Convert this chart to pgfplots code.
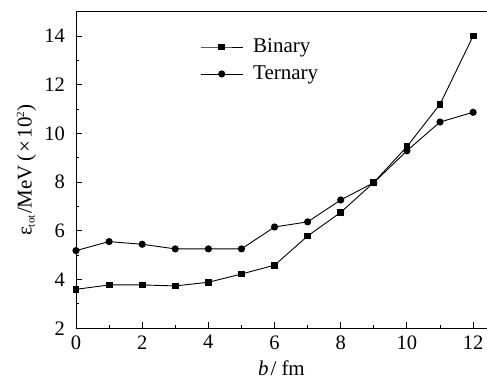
\documentclass[border=0pt]{standalone}
\usepackage{fontspec}
\setmainfont{Liberation Serif}
\usepackage{pgfplots}
\pgfplotsset{compat=1.18}
\usetikzlibrary{calc}
\begin{document}
\fontsize{21}{24}\selectfont
\begin{tikzpicture}
\begin{axis}[
  name=ax,
  scale only axis,
  width=411pt, height=316.6pt,
  xmin=0, xmax=12.42, ymin=2, ymax=15,
  axis x line=box, axis y line=left,
  axis line style={line width=0.9pt, -},
  xtick={0,2,...,12}, ytick={2,4,...,14},
  minor xtick={1,3,...,11}, minor ytick={3,5,...,13},
  xtick pos=bottom, ytick pos=left,
  tick align=inside,
  major tick length=6pt, minor tick length=3pt,
  tick style={line width=0.9pt, black},
  /pgf/number format/assume math mode=true,
  tick label style={font=\fontsize{20.5}{23}\selectfont},
  yticklabel style={xshift=-4pt},
  label style={font=\fontsize{21}{24}\selectfont},
  xlabel={\textit{b}\kern2pt/\kern5pt fm},
  ylabel={ε\textsubscript{\fontsize{11}{11}\selectfont tot}\kern1pt/MeV\kern3pt(\kern2pt×\kern3pt10\textsuperscript{\fontsize{11}{11}\selectfont 2})},
  xlabel style={yshift=3pt},
  ylabel style={yshift=-6pt},
  legend style={draw=none, fill=none, inner sep=0pt, at={(axis cs:3.75,13.95)}, anchor=north west,
    font=\fontsize{21}{24}\selectfont, row sep=8pt, column sep=9pt, nodes={inner sep=1pt}},
  legend cell align=left,
  legend image code/.code={\draw[mark repeat=2,mark phase=2,#1] plot coordinates {(0pt,0pt) (21pt,0pt) (42pt,0pt)};},
  every axis plot/.append style={line width=0.9pt, black},
]
\addplot[mark=square*, mark size=2.9pt] coordinates {
(0,3.60) (1,3.78) (2,3.78) (3,3.74) (4,3.89) (5,4.23) (6,4.59)
(7,5.79) (8,6.76) (9,7.99) (10,9.46) (11,11.20) (12,14.0)};
\addlegendentry{Binary}
\addplot[mark=*, mark size=3.1pt] coordinates {
(0,5.19) (1,5.56) (2,5.45) (3,5.26) (4,5.26) (5,5.26) (6,6.16)
(7,6.37) (8,7.27) (9,7.98) (10,9.29) (11,10.47) (12,10.87)};
\addlegendentry{Ternary}
\end{axis}
\pgfresetboundingbox
\useasboundingbox ($(ax.south west)+(-76pt,-58.7pt)$) rectangle ($(ax.north east)+(0pt,11.7pt)$);
\end{tikzpicture}
\end{document}
